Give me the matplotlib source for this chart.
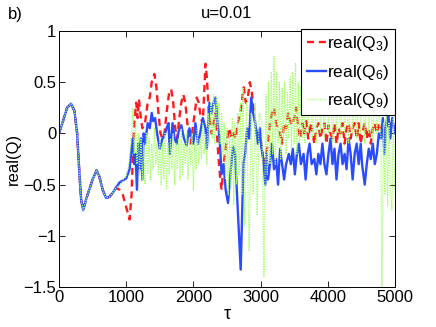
import matplotlib
matplotlib.use("Agg")
import matplotlib.pyplot as plt

plt.rcParams["font.family"] = ["Liberation Sans", "DejaVu Sans"]
plt.rcParams["mathtext.default"] = "regular"

# shared start (all three modes coincide up to ~tau 850)
tau_start = [0, 60, 120, 180, 230, 270, 300, 330, 360, 400, 450, 500, 560,
             600, 650, 700, 750, 800, 850]
val_start = [0.0, 0.12, 0.25, 0.29, 0.22, 0.0, -0.35, -0.65, -0.75, -0.65,
             -0.55, -0.45, -0.36, -0.42, -0.55, -0.63, -0.62, -0.58, -0.53]

# real(Q3)
tau_q3 = [900, 950, 1000, 1050, 1080, 1100, 1120, 1150, 1170, 1190,
          1210, 1240, 1280, 1320, 1350, 1380, 1420, 1450, 1480, 1510,
          1540, 1570, 1600, 1640, 1670, 1700, 1730, 1760, 1790, 1820,
          1850, 1880, 1910, 1940, 1960, 1990, 2020, 2050, 2080, 2110,
          2140, 2160, 2180, 2200, 2230, 2270, 2300, 2330, 2370, 2400,
          2420, 2450, 2490, 2530, 2570, 2600, 2630, 2660, 2700, 2730,
          2750, 2780, 2810, 2840, 2870, 2900, 2930, 2960, 2990, 3020,
          3050, 3080, 3110, 3140, 3170, 3200, 3230, 3260, 3290, 3320,
          3350, 3380, 3410, 3440, 3470, 3500, 3530, 3560, 3590, 3620,
          3650, 3680, 3710, 3740, 3770, 3800, 3830, 3860, 3890, 3920,
          3950, 3980, 4010, 4040, 4070, 4100, 4130, 4160, 4190, 4220,
          4250, 4280, 4310, 4340, 4370, 4400, 4430, 4460, 4490, 4520,
          4550, 4580, 4610, 4640, 4670, 4700, 4730, 4760, 4790, 4820,
          4850, 4880, 4910, 4940, 4970, 5000]
val_q3 = [-0.55, -0.6, -0.72, -0.84, -0.6, -0.2, 0.1, 0.3, 0.15, 0.33,
          0.2, 0.05, 0.1, 0.3, 0.35, 0.5, 0.58, 0.45, 0.2, 0.0,
          -0.05, 0.0, 0.2, 0.4, 0.43, 0.3, 0.05, -0.05, 0.15, 0.3,
          0.38, 0.3, 0.1, -0.05, -0.1, 0.05, 0.2, 0.35, 0.3, 0.15,
          0.1, 0.4, 0.68, 0.55, 0.2, 0.0, 0.1, 0.2, -0.2, -0.45,
          -0.55, -0.3, -0.1, 0.05, -0.05, 0.0, -0.05, 0.1, 0.2, 0.35,
          0.45, 0.3, 0.35, 0.5, 0.4, 0.2, 0.05, -0.05, 0.0, -0.15,
          -0.3, -0.2, -0.1, 0.1, 0.2, 0.25, 0.1, 0.05, 0.0, -0.1,
          0.1, 0.05, 0.2, 0.12, 0.08, 0.15, 0.25, 0.05, -0.05, 0.1,
          0.0, 0.12, -0.05, 0.1, 0.02, -0.1, 0.05, 0.1, -0.05, 0.05,
          0.1, -0.1, 0.08, 0.0, -0.05, 0.1, -0.1, 0.05, 0.0, 0.1,
          -0.1, 0.05, 0.1, -0.05, 0.05, 0.1, -0.05, 0.1, -0.1, 0.02,
          0.1, -0.05, 0.05, -0.1, 0.05, 0.1, 0.0, 0.1, 0.05, 0.1,
          0.0, 0.1, 0.05, 0.1, 0.05, 0.08]

# real(Q6), blue solid curve
tau_q6 = [900, 950, 1000, 1050, 1080, 1100, 1120, 1140, 1160, 1180,
          1200, 1220, 1240, 1260, 1280, 1300, 1320, 1350, 1380, 1400,
          1430, 1460, 1500, 1540, 1570, 1600, 1630, 1650, 1690, 1720,
          1750, 1780, 1820, 1860, 1900, 1940, 1980, 2000, 2030, 2070,
          2100, 2140, 2180, 2200, 2240, 2270, 2300, 2330, 2360, 2390,
          2420, 2450, 2480, 2515, 2550, 2590, 2620, 2650, 2680, 2704,
          2725, 2745, 2770, 2800, 2830, 2860, 2890, 2920, 2960, 2990,
          3010, 3040, 3070, 3090, 3110, 3140, 3170, 3200, 3230, 3260,
          3290, 3320, 3350, 3380, 3420, 3450, 3480, 3510, 3540, 3570,
          3600, 3640, 3670, 3700, 3730, 3760, 3800, 3830, 3860, 3890,
          3920, 3950, 3980, 4010, 4040, 4070, 4100, 4130, 4160, 4190,
          4220, 4250, 4280, 4310, 4340, 4370, 4400, 4430, 4460, 4490,
          4510, 4550, 4580, 4610, 4640, 4670, 4700, 4730, 4760, 4790,
          4820, 4840, 4870, 4900, 4930, 4960, 5000]
val_q6 = [-0.48, -0.46, -0.44, -0.35, -0.15, -0.05, -0.3, -0.2, -0.55, -0.1,
          -0.35, -0.05, -0.45, 0.0, -0.1, 0.0, 0.1, 0.05, 0.2, 0.12,
          0.15, 0.0, -0.15, -0.05, -0.02, 0.05, 0.1, -0.2, 0.1, -0.05,
          -0.1, 0.02, 0.08, -0.05, -0.12, 0.05, -0.05, -0.1, 0.1, -0.1,
          0.0, 0.15, 0.05, -0.15, 0.3, 0.2, 0.3, 0.35, 0.1, -0.05,
          -0.4, -0.3, -0.55, -0.68, -0.4, -0.13, -0.2, -0.6, -1.0, -1.33,
          -0.8, -0.29, -0.2, 0.05, -0.05, 0.35, 0.2, 0.1, -0.1, 0.05,
          -0.13, -0.25, -0.5, -0.2, -0.45, -0.3, -0.1, -0.35, -0.25, -0.5,
          -0.15, -0.3, -0.45, -0.3, -0.2, -0.3, -0.15, -0.4, -0.2, -0.1,
          -0.3, -0.2, -0.45, -0.2, -0.1, -0.3, -0.25, -0.4, -0.2, -0.3,
          -0.1, -0.3, -0.4, -0.2, -0.05, -0.3, -0.15, -0.45, -0.2, -0.1,
          -0.3, -0.2, -0.35, -0.05, -0.2, -0.45, -0.2, -0.1, -0.3, -0.1,
          -0.3, -0.5, -0.3, -0.15, -0.25, -0.1, -0.3, -0.2, 0.0, -0.05,
          0.15, -0.2, 0.1, 0.2, -0.05, 0.15, 0.0]

# real(Q9), green dotted curve (fast oscillation)
tau_q9 = [880, 920, 960, 1000, 1040, 1070, 1100, 1120, 1140, 1160,
          1180, 1200, 1220, 1240, 1260, 1280, 1300, 1320, 1340, 1360,
          1380, 1400, 1420, 1440, 1460, 1480, 1500, 1520, 1540, 1560,
          1580, 1600, 1620, 1640, 1660, 1680, 1700, 1720, 1740, 1760,
          1780, 1800, 1820, 1840, 1860, 1880, 1900, 1920, 1940, 1960,
          1980, 2000, 2020, 2040, 2060, 2080, 2100, 2120, 2140, 2160,
          2180, 2200, 2220, 2240, 2260, 2280, 2300, 2320, 2340, 2360,
          2380, 2400, 2420, 2440, 2460, 2480, 2500, 2520, 2540, 2560,
          2580, 2600, 2620, 2640, 2660, 2680, 2700, 2720, 2740, 2760,
          2790, 2830, 2860, 2890, 2920, 2950, 2980, 3020, 3050, 3080,
          3100, 3120, 3140, 3160, 3180, 3200, 3220, 3240, 3260, 3280,
          3300, 3320, 3340, 3360, 3380, 3400, 3420, 3440, 3460, 3480,
          3500, 3520, 3540, 3560, 3580, 3600, 3620, 3640, 3660, 3680,
          3710, 3740, 3770, 3800, 3830, 3860, 3890, 3920, 3950, 3980,
          4010, 4040, 4070, 4100, 4130, 4160, 4190, 4220, 4250, 4280,
          4310, 4340, 4370, 4400, 4430, 4460, 4490, 4520, 4550, 4580,
          4610, 4640, 4670, 4700, 4730, 4760, 4790,
          4805, 4830, 4850, 4870, 4890, 4910, 4930, 4955, 4975, 5000]
val_q9 = [-0.52, -0.5, -0.45, -0.42, -0.3, -0.1, 0.25, -0.2, 0.1, -0.3,
          0.0, -0.4, -0.05, -0.45, -0.1, -0.5, 0.0, -0.4, -0.05, -0.45,
          -0.1, -0.35, 0.05, -0.3, -0.1, -0.4, -0.05, -0.5, -0.1, -0.45,
          0.0, -0.55, -0.1, -0.4, -0.05, -0.35, 0.0, -0.5, -0.1, -0.35,
          -0.05, -0.45, 0.05, -0.4, -0.1, -0.3, 0.0, -0.45, -0.05, -0.3,
          0.0, -0.55, -0.1, -0.35, 0.05, -0.3, -0.05, -0.25, 0.1, -0.2,
          0.0, -0.3, 0.2, -0.1, 0.3, -0.05, 0.38, -0.1, 0.35, 0.0,
          0.3, -0.1, 0.2, -0.2, 0.1, -0.45, 0.05, -0.6, 0.0, -0.5,
          0.15, -0.7, 0.1, -0.5, 0.2, -0.4, 0.3, -0.6, 0.45, -0.9,
          0.3, -1.15, 0.2, -0.6, 0.3, -0.8, 0.2, 0.1, -1.4, 0.38,
          -0.4, 0.5, -0.3, 0.6, -0.2, 0.75, -0.3, 0.6, -0.1, 0.5,
          -0.25, 0.45, -0.1, 0.5, -0.2, 0.4, -0.05, 0.55, -0.15, 0.6,
          -0.1, 0.68, -0.2, 0.5, -0.1, 0.45, -0.05, 0.5, -0.1, 0.45,
          0.0, 0.5, -0.05, 0.45, -0.1, 0.5, 0.0, 0.4, -0.05, 0.5,
          0.0, 0.45, -0.1, 0.4, 0.0, 0.5, -0.05, 0.45, 0.0, 0.4,
          -0.1, 0.5, 0.0, 0.45, -0.05, 0.4, 0.0, 0.5, -0.1, 0.45,
          0.0, 0.4, -0.05, 0.45, 0.0, 0.3, -0.05,
          -1.55, 0.1, -0.6, 0.2, -0.7, 0.1, -0.55, -0.75, 0.15, -0.55]

t3 = tau_start + tau_q3
v3 = val_start + val_q3
t6 = tau_start + tau_q6
v6 = val_start + val_q6
t9 = tau_start + tau_q9
v9 = val_start + val_q9

fig = plt.figure(figsize=(4.36, 3.27), dpi=100)
ax = fig.add_axes([0.1353, 0.1223, 0.7706, 0.7829])

ax.plot(t3, v3, color="#ff1a1a", ls=(0, (3, 2)), lw=1.7, label="real(Q$_3$)")
ax.plot(t6, v6, color="#2a4cff", ls="-", lw=1.7, label="real(Q$_6$)")
ax.plot(t9, v9, color="#a4ff6a", ls=(0, (1, 1)), lw=0.9, label="real(Q$_9$)")

ax.set_xlim(0, 5000)
ax.set_ylim(-1.5, 1)
ax.set_xticks([0, 1000, 2000, 3000, 4000, 5000])
ax.set_yticks([-1.5, -1, -0.5, 0, 0.5, 1])
ax.set_yticklabels(["\u22121.5", "\u22121", "\u22120.5", "0", "0.5", "1"])
ax.tick_params(direction="in", top=True, right=True, labelsize=12, length=4,
               width=0.6, pad=2)
for s in ax.spines.values():
    s.set_linewidth(0.7)

ax.set_xlabel("\u03c4", fontsize=13, labelpad=1)
ax.set_ylabel("real(Q)", fontsize=12, labelpad=2)
ax.set_title("u=0.01", fontsize=12, pad=9)
fig.text(0.018, 0.955, "b)", fontsize=12, va="center")

leg = ax.legend(loc="upper right", bbox_to_anchor=(1.0, 1.008), fontsize=12.5,
                handlelength=1.1, handletextpad=0.1, borderpad=0.3,
                labelspacing=0.55, fancybox=False, framealpha=1,
                borderaxespad=0.0)
leg.get_frame().set_edgecolor("black")
leg.get_frame().set_linewidth(0.8)

fig.savefig("out.png", dpi=100)
